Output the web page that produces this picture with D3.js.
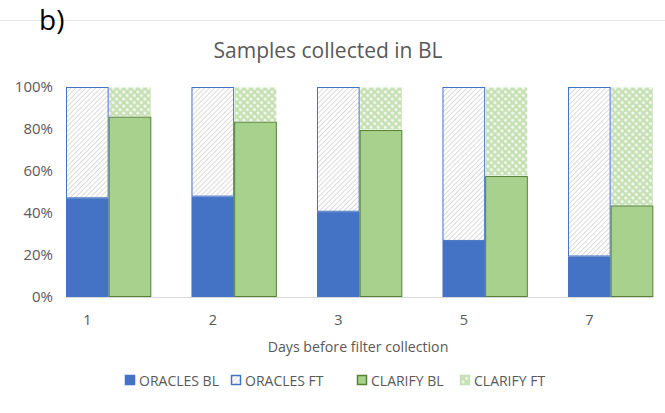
<html>
  <head>
    <script src="https://d3js.org/d3.v7.min.js"></script>
    <style>
      body {margin:0; background:white;}
      text {font-family: "Open Sans", sans-serif;}
    </style>
  </head>
  <body>
    <div id="chart1"></div>
    <script>
      var days = ["1", "2", "3", "5", "7"];
      var oraclesBL = [0.47, 0.478, 0.406, 0.267, 0.193];
      var oraclesFT = [0.53, 0.522, 0.594, 0.733, 0.807];
      var clarifyBL = [0.859, 0.835, 0.795, 0.576, 0.436];
      var clarifyFT = [0.141, 0.165, 0.205, 0.424, 0.564];
      var yTicks = [0, 0.2, 0.4, 0.6, 0.8, 1];
      var legendLabels = ["ORACLES BL", "ORACLES FT", "CLARIFY BL", "CLARIFY FT"];

      var width = 665, height = 413;

      var svg = d3.select("#chart1")
        .append("svg")
          .attr("width", width)
          .attr("height", height);

      var defs = svg.append("defs");
      var hatch = defs.append("pattern")
        .attr("id", "hatch")
        .attr("patternUnits", "userSpaceOnUse")
        .attr("width", 3.5)
        .attr("height", 3.5)
        .attr("patternTransform", "rotate(45)");
      hatch.append("rect").attr("width", 3.5).attr("height", 3.5).attr("fill", "white");
      hatch.append("line")
        .attr("x1", 0).attr("y1", 0).attr("x2", 0).attr("y2", 3.5)
        .attr("stroke", "#c4c4c4").attr("stroke-width", 1.2);

      var dots = defs.append("pattern")
        .attr("id", "dots")
        .attr("patternUnits", "userSpaceOnUse")
        .attr("width", 5)
        .attr("height", 5)
        .attr("patternTransform", "rotate(45)");
      dots.append("rect").attr("width", 5).attr("height", 5).attr("fill", "#c6e0b4");
      dots.append("circle")
        .attr("cx", 2.5).attr("cy", 2.5).attr("r", 1.6)
        .attr("fill", "#f4f9f0");

      // frame line of the chart area
      svg.append("line")
        .attr("x1", 0).attr("x2", width)
        .attr("y1", 20.5).attr("y2", 20.5)
        .attr("stroke", "#e6e6e6");

      svg.append("text")
        .attr("x", 39).attr("y", 30)
        .style("font-size", "28px")
        .attr("fill", "#000")
        .text("b)");

      svg.append("text")
        .attr("x", 328).attr("y", 58)
        .attr("text-anchor", "middle")
        .style("font-size", "21px")
        .attr("fill", "#595959")
        .text("Samples collected in BL");

      var y = d3.scaleLinear()
        .domain([0, 1])
        .range([297, 87]);

      var x = d3.scaleBand()
        .domain(days)
        .range([45.9, 673.4])
        .paddingInner(0.32)
        .paddingOuter(0.16);

      var sub = d3.scaleBand()
        .domain(["ORACLES", "CLARIFY"])
        .range([0, x.bandwidth()]);

      var rows = days.map(function(d, i) {
        return {day: d, oBL: oraclesBL[i], oFT: oraclesFT[i], cBL: clarifyBL[i], cFT: clarifyFT[i]};
      });

      var oStack = d3.stack().keys(["oBL", "oFT"])(rows);
      var cStack = d3.stack().keys(["cBL", "cFT"])(rows);

      var styles = {
        oBL: {fill: "#4472C4", stroke: "#4472C4"},
        oFT: {fill: "url(#hatch)", stroke: "#4472C4"},
        cBL: {fill: "#A9D18E", stroke: "#548235"},
        cFT: {fill: "url(#dots)", stroke: "none"}
      };

      function drawStack(stack, group) {
        stack.forEach(function(layer) {
          svg.append("g")
            .selectAll("rect")
            .data(layer)
            .enter()
            .append("rect")
              .attr("x", function(d) { return x(d.data.day) + sub(group) + 0.5; })
              .attr("y", function(d) { return y(d[1]) + 0.5; })
              .attr("width", sub.bandwidth() - 1)
              .attr("height", function(d) { return y(d[0]) - y(d[1]) - 1; })
              .attr("fill", styles[layer.key].fill)
              .attr("stroke", styles[layer.key].stroke)
              .attr("stroke-width", 1);
        });
      }
      drawStack(oStack, "ORACLES");
      drawStack(cStack, "CLARIFY");

      // x axis
      svg.append("line")
        .attr("x1", x(days[0])).attr("x2", x(days[days.length - 1]) + x.bandwidth())
        .attr("y1", 297.5).attr("y2", 297.5)
        .attr("stroke", "#d9d9d9");

      var xAxis = svg.append("g")
        .attr("transform", "translate(" + (-x.bandwidth() / 4) + ",297)")
        .call(d3.axisBottom(x).tickSize(0).tickPadding(18));
      xAxis.select(".domain").remove();
      xAxis.selectAll("text")
        .style("font-size", "14.5px")
        .style("font-family", "'Open Sans', sans-serif")
        .attr("fill", "#595959");

      var yAxis = svg.append("g")
        .attr("transform", "translate(53,0)")
        .call(d3.axisLeft(y).tickValues(yTicks).tickSize(0).tickPadding(0).tickFormat(d3.format(".0%")));
      yAxis.select(".domain").remove();
      yAxis.selectAll("text")
        .style("font-size", "15px")
        .style("font-family", "'Open Sans', sans-serif")
        .attr("fill", "#595959");

      svg.append("text")
        .attr("x", 358).attr("y", 352)
        .attr("text-anchor", "middle")
        .style("font-size", "14.2px")
        .attr("fill", "#595959")
        .text("Days before filter collection");

      // legend
      var legendX = [125, 231, 357, 460];
      var legendKeys = ["oBL", "oFT", "cBL", "cFT"];
      legendLabels.forEach(function(label, i) {
        svg.append("rect")
          .attr("x", legendX[i] + 0.5).attr("y", 375.5)
          .attr("width", 9).attr("height", 9)
          .attr("fill", styles[legendKeys[i]].fill)
          .attr("stroke", legendKeys[i] == "cFT" ? "#c6e0b4" : styles[legendKeys[i]].stroke)
          .attr("stroke-width", 1.5);
        svg.append("text")
          .attr("x", legendX[i] + 14).attr("y", 385.5)
          .style("font-size", "14px")
          .attr("fill", "#595959")
          .text(label);
      });
    </script>
  </body>
</html>
